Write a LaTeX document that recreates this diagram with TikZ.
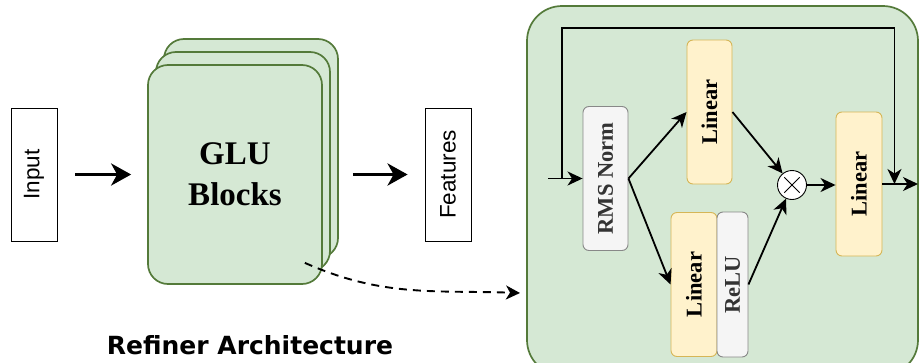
\documentclass[tikz,border=0pt]{standalone}
\usepackage{fontspec}
\setmainfont{Liberation Serif}
\newfontfamily\arialfont{Liberation Sans}
\newfontfamily\titlefont{DejaVu Sans}
\usepackage{tikz}
\usetikzlibrary{arrows.meta}
\usepackage{xcolor}
\definecolor{gruenfill}{RGB}{213,232,212}
\definecolor{gruenline}{RGB}{84,122,58}
\definecolor{gelbfill}{RGB}{255,242,204}
\definecolor{gelbline}{RGB}{214,182,86}
\definecolor{graufill}{RGB}{245,245,245}
\definecolor{grauline}{RGB}{136,136,136}
\definecolor{grautext}{RGB}{51,51,51}

\begin{document}
\begin{tikzpicture}[x=1pt, y=-1pt,
    dick/.style={line width=3.5pt, -{Stealth[length=20pt, width=22pt, inset=6pt]}},
    duenn/.style={line width=1.8pt, -{Stealth[length=15pt, width=14pt, inset=4.5pt]}},
    textbox/.style={draw, line width=0.8pt, rotate=90, minimum width=133pt,
        minimum height=46pt, inner sep=0pt, font=\arialfont\fontsize{22.5}{26}\selectfont},
    glubox/.style={draw=gruenline, fill=gruenfill, line width=1.7pt,
        rounded corners=20pt, minimum width=174pt, minimum height=219pt},
    linbox/.style={draw=gelbline, fill=gelbfill, line width=0.9pt, rounded corners=6pt,
        rotate=90, minimum height=45pt, minimum width=144pt, inner sep=0pt,
        font=\fontsize{22.5}{25}\selectfont\bfseries},
    graubox/.style={draw=grauline, fill=graufill, line width=0.9pt, rounded corners=6pt,
        rotate=90, minimum width=144pt, inner sep=0pt, text=grautext,
        font=\fontsize{22.5}{25}\selectfont\bfseries}]
    \useasboundingbox (0,0) rectangle (919,362);
    %
    \node[textbox] (a) at (34,174.5) {Input};
    \node[glubox] (b2) at ([xshift=16pt, yshift=26pt]235,174.5) {};
    \node[glubox] (b1) at ([xshift=8pt, yshift=13pt]235,174.5) {};
    \node[glubox, align=center, font=\fontsize{33}{41}\selectfont\bfseries] (b) at (235,174.5) {
        GLU\\Blocks
    };
    \node[textbox] (c) at (448,174.5) {Features};
    \node[font=\titlefont\fontsize{25}{30}\selectfont\bfseries, anchor=base] (t) at (250,354) {
        Refiner Architecture
    };
    %
    \node[draw=gruenline, fill=gruenfill, line width=1.7pt, rounded corners=35pt,
        minimum width=391pt, minimum height=369pt] (d) at (722.5,190.5) {};
    \node[graubox, minimum height=45pt] (d1) at (605.5,178.5) {RMS Norm};
    \node[linbox] (d2) at (709.5,112) {Linear};
    \node[linbox, minimum height=46pt] (d3) at (694,284.5) {Linear};
    \node[graubox, minimum height=31pt, minimum width=145pt] (d4) at (732.5,284.5) {ReLU};
    \node[draw, fill=white, circle, line width=0.9pt, minimum size=29pt, inner sep=0pt] (d5) at (792,185) {};
    \draw[line width=0.8pt, shorten <=4pt, shorten >=4pt] (d5.north east) -- (d5.south west);
    \draw[line width=0.8pt, shorten <=4pt, shorten >=4pt] (d5.north west) -- (d5.south east);
    \node[linbox, minimum height=46pt] (d6) at (859,184) {Linear};
    \coordinate (d0) at (548,178.5);
    \coordinate (d7) at (918,184);
    %
    \coordinate (s) at ([xshift=-18pt, yshift=22pt]b.south east);
    \coordinate (e) at (520,293);
    %
    \draw[dick, shorten <=18pt, shorten >=16pt] (a) -- (b);
    \draw[dick, shorten <=30pt, shorten >=17pt] (b) -- (c);
    \draw[line width=1.9pt, dash pattern=on 8pt off 6pt,
        -{Stealth[length=14pt, width=14pt, inset=4pt]}] (s) to[out=-24, in=178] (e);
    %
    \draw[duenn] (d0) -- (d1.north);
    \draw[duenn] ([xshift=14pt]d0) -- ++(0,-150.5) -| ([xshift=12pt]d6.south |- d7);
    \draw[duenn] (d1.south) -- (d2.north);
    \draw[duenn] (d1.south) -- (d3.north);
    \draw[duenn] (d2.south) -- (d5);
    \draw[duenn] (d4.south) -- (d5);
    \draw[duenn] (d5.east) -- (d5.east -| d6.north);
    \draw[duenn] (d6.south) -- (d7);
\end{tikzpicture}
\end{document}
